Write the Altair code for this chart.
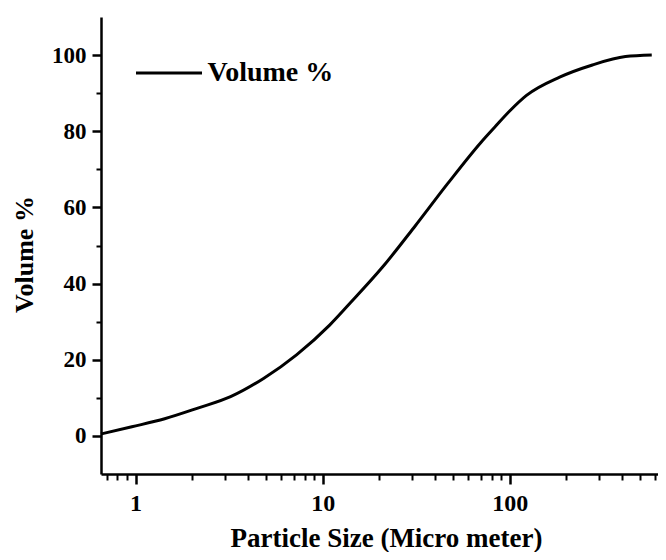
import altair as alt
import pandas as pd

# Particle size (micrometer) and cumulative volume %
size_um = [0.653, 0.955, 1.43, 2.15, 3.22, 4.83, 7.25, 10.9, 13.8, 20.8,
           31.1, 46.7, 70.0, 84.0, 100.0, 123.0, 185.0, 277.0, 416.0, 575.0]
volume_pct = [0.5, 2.4, 4.5, 7.3, 10.3, 15.1, 21.3, 29.1, 34.5, 44.2,
              55.0, 66.3, 77.0, 81.3, 85.3, 89.4, 94.2, 97.4, 99.6, 100.0]
series = ["Volume %"] * len(size_um)

x_major = [1, 10, 100]
x_minor = [0.7, 0.8, 0.9, 2, 3, 4, 5, 6, 7, 8, 9,
           20, 30, 40, 50, 60, 70, 80, 90, 200, 300, 400, 500, 600]
y_major = [0, 20, 40, 60, 80, 100]
y_minor = [10, 30, 50, 70, 90]

df = pd.DataFrame({"size": size_um, "vol": volume_pct, "series": series})

FONT = "Liberation Serif"
xdom = [0.653, 621]
ydom = [-10, 110]

base = alt.Chart(df)

main = base.mark_line(strokeWidth=3, interpolate="monotone").encode(
    x=alt.X("size:Q",
            scale=alt.Scale(type="log", domain=xdom, nice=False),
            axis=alt.Axis(values=x_major, format="~g", orient="bottom",
                          title="Particle Size (Micro meter)",
                          titleFont=FONT, titleFontSize=27, titleFontWeight="bold",
                          titleColor="black", titleX=285, titleY=72,
                          titleBaseline="alphabetic", titleAlign="center",
                          labelFont=FONT, labelFontSize=24, labelFontWeight="bold",
                          labelColor="black", labelPadding=7,
                          tickSize=10, tickWidth=2.5, tickColor="black",
                          domainWidth=2.5, domainColor="black", grid=False,
                          labelFlush=False, labelOverlap=False)),
    y=alt.Y("vol:Q",
            scale=alt.Scale(domain=ydom, nice=False, zero=False),
            axis=alt.Axis(values=y_major, orient="left",
                          title="Volume %",
                          titleFont=FONT, titleFontSize=26, titleFontWeight="bold",
                          titleColor="black", titleX=-77, titleY=237,
                          titleBaseline="middle", titleAlign="center", titleAngle=270,
                          labelFont=FONT, labelFontSize=23, labelFontWeight="bold",
                          labelColor="black", labelPadding=6,
                          tickSize=9, tickWidth=2.5, tickColor="black",
                          domainWidth=2.5, domainColor="black", grid=False,
                          labelFlush=False, labelOverlap=False)),
    color=alt.Color("series:N",
                    scale=alt.Scale(domain=["Volume %"], range=["black"]),
                    legend=alt.Legend(orient="none", legendX=33.5, legendY=21.5,
                                      title=None, symbolType="stroke",
                                      symbolSize=4356, symbolStrokeWidth=3,
                                      labelFont=FONT, labelFontSize=28,
                                      labelFontWeight="bold", labelColor="black",
                                      labelOffset=4, padding=0)),
)

minor = base.mark_line(opacity=0).encode(
    x=alt.X("size:Q",
            scale=alt.Scale(type="log", domain=xdom, nice=False),
            axis=alt.Axis(values=x_minor, orient="bottom", labels=False,
                          domain=False, title=None, tickSize=6, tickWidth=2,
                          tickColor="black", grid=False)),
    y=alt.Y("vol:Q",
            scale=alt.Scale(domain=ydom, nice=False, zero=False),
            axis=alt.Axis(values=y_minor, orient="left", labels=False,
                          domain=False, title=None, tickSize=5, tickWidth=2,
                          tickColor="black", grid=False)),
)

chart = alt.layer(main, minor).resolve_scale(
    x="independent", y="independent"
).resolve_axis(
    x="independent", y="independent"
).properties(
    width=557, height=457,
    autosize=alt.AutoSizeParams(type="none"),
    padding={"left": 93, "top": 9, "right": 0, "bottom": 78},
    background="white",
).configure_view(stroke=None)

chart.save("out.html", embed_options={"renderer": "svg", "actions": False})
